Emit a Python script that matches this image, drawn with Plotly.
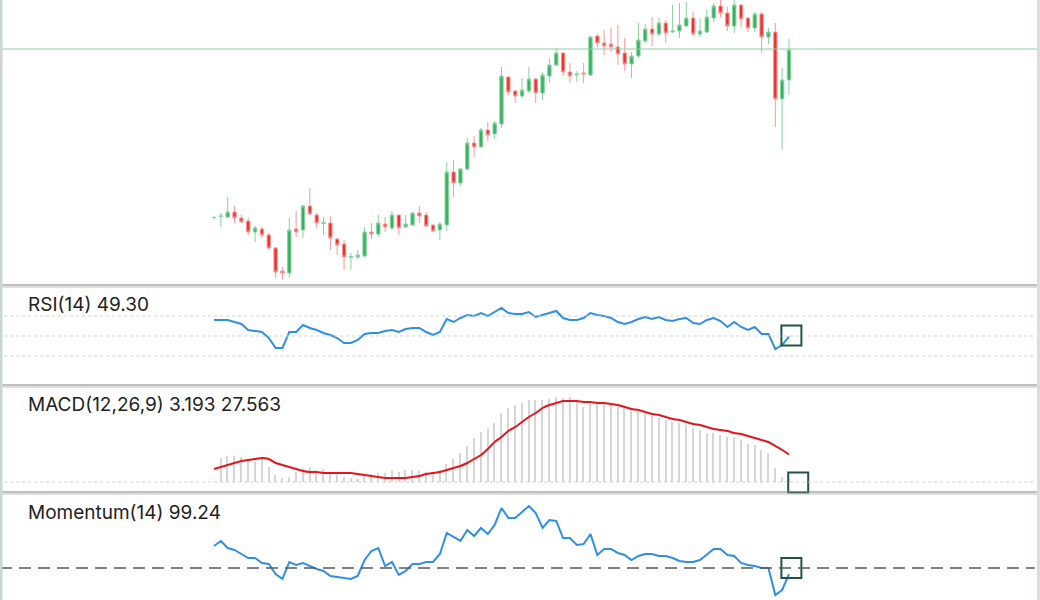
import plotly.graph_objects as go

# ---------------- data ----------------
idx = list(range(85))

opens = [82.5, 83.5, 83, 88, 82, 79, 68, 71, 65, 52, 29, 27, 71, 70, 94, 85, 76.5, 77, 61, 56,
         42.5, 43, 44, 68, 66, 76, 72, 85, 73, 75, 87, 85, 75, 70, 75, 128, 117, 131, 157, 153,
         170, 166, 176, 223, 209, 204, 209, 221, 207, 224, 235, 247, 228, 225, 227, 225, 264, 257, 256, 253,
         247, 236, 244, 259, 271, 266, 277, 268, 269, 274, 282, 266, 268, 282, 294, 287, 274, 295, 282, 272,
         286, 263, 268, 201, 220]
closes = [82.5, 84, 88, 82, 78, 68, 72, 65, 52, 28, 27, 70, 68, 94, 86, 77, 77.5, 62, 55, 43,
          43.5, 45, 68, 66, 77, 73, 85, 72, 76, 87, 84, 74, 69, 76, 128, 117, 131, 157, 153, 170,
          165, 177, 224, 208, 204, 210, 221, 207, 225, 235, 247, 228, 224, 226, 226, 263, 257, 254, 253, 246,
          236, 244, 260, 271, 266, 277, 267, 269, 275, 282, 266, 269, 283, 294, 287, 274, 295, 281, 272, 286,
          263, 268, 201, 220, 250]
highs = [84, 87, 103, 94, 85, 82, 74, 73, 67, 53, 33, 82, 89, 95, 112, 87, 83, 84, 62, 60,
         47, 50, 73, 77, 85, 83, 89, 85, 85, 88, 94, 88, 75, 78, 138, 140, 132, 162, 164, 172,
         178, 179, 233, 224, 210, 222, 233, 222, 228, 242, 252, 248, 237, 229, 237, 264, 266, 270, 272, 275,
         262, 248, 277, 276, 283, 282, 280, 295, 297, 298, 288, 282, 291, 297, 300, 293, 300, 295, 283, 288,
         288, 272, 277, 232, 261]
lows = [81, 73, 82, 77, 77, 65, 58, 62, 50, 22, 20, 22, 63, 62, 85, 72, 65, 50, 45, 30,
        30, 41, 43, 61, 63, 68, 70, 65, 72, 74, 77, 73, 68, 60, 69, 103, 114, 130, 143, 153,
        159, 161, 172, 205, 197, 202, 207, 197, 200, 217, 234, 224, 217, 218, 217, 224, 253, 245, 248, 235,
        229, 222, 242, 257, 254, 263, 257, 267, 262, 273, 264, 263, 267, 278, 283, 269, 267, 273, 268, 268,
        247, 256, 173, 150, 205]

rsi = [66, 66, 66, 64, 62, 56, 55, 54, 48, 38, 38, 54, 54, 61, 58, 56, 53, 51, 48, 43,
       43, 46, 52, 53, 53, 55, 56, 54, 57, 58, 58, 54, 51, 54, 67, 64, 68, 71, 70, 73,
       70, 74, 78, 73, 72, 72, 74, 69, 71, 73, 75, 68, 66, 66, 68, 73, 71, 70, 68, 64,
       62, 64, 67, 69, 67, 69, 66, 65, 67, 68, 63, 62, 66, 68, 65, 59, 64, 59, 56, 59,
       52, 52, 37, 41, 49.30]

macd_main = [None, 24, 26, 26, 25, 22, 20, 24, 15, 7, 4, 5, 10, 14, 15, 12, 13, 10, 10, 5,
             4, 3, 7, 8, 9, 9, 12, 10, 12, 12, 11, 10, 10, 12, 18, 23, 29, 36, 44, 50,
             54, 59, 69, 74, 77, 79, 82, 82, 82, 83, 85, 84, 85, 80, 75, 80, 80, 80, 77, 77,
             75, 72, 70, 68, 66, 64, 62, 60, 59, 57, 54, 52, 49, 49, 47, 45, 45, 42, 38, 37,
             32, 29, 14, 5, 3.193]
macd_signal = [13, 15, 17, 19, 21, 22, 23, 24, 23, 19, 17, 15, 13, 11, 10, 10, 9, 9, 9, 9,
               9, 8, 7, 6, 5, 4, 4, 4, 4, 5, 6, 8, 9, 10, 12, 14, 16, 19, 23, 27,
               33, 40, 45, 51, 55, 60, 65, 69, 74, 77, 79, 81, 81, 81, 80, 80, 79, 79, 78, 77,
               75, 73, 72, 70, 68, 67, 65, 63, 62, 60, 58, 57, 55, 53, 52, 51, 49, 48, 46, 44,
               42, 40, 36, 32, 27.563]

momentum = [102.75, 103.38, 102.50, 102.25, 101.75, 101.25, 101.25, 100.63, 100.50, 99.25,
            98.63, 100.75, 100.38, 100.63, 100.25, 99.88, 99.63, 99.00, 98.88, 98.75,
            98.63, 99.00, 101.00, 102.13, 102.50, 100.25, 100.75, 99.13, 99.63, 100.50,
            100.50, 100.75, 100.75, 101.75, 104.38, 103.88, 103.38, 104.75, 104.00, 105.00,
            104.25, 105.38, 107.50, 106.25, 106.25, 107.00, 107.75, 106.88, 105.00, 106.00,
            105.88, 103.75, 103.75, 102.88, 103.00, 104.25, 101.63, 102.38, 102.38, 101.88,
            101.63, 101.00, 101.50, 101.75, 101.75, 101.50, 101.50, 101.25, 100.88, 100.75,
            100.75, 101.00, 101.75, 102.38, 102.38, 101.63, 101.50, 100.63, 100.38, 100.25,
            100.00, 100.00, 96.63, 97.25, 99.24]

rsi_levels = [70, 50, 30]
macd_zero = 0
momentum_level = 100
price_line = 251

# ---------------- layout helpers ----------------
W, H = 1040, 600


def dom(top_px, bottom_px):
    return [1 - bottom_px / H, 1 - top_px / H]


first_px, step_px = 214, 6.845
x_range = [-first_px / step_px, (W - first_px) / step_px]
last = idx[-1]

fig = go.Figure()

fig.add_trace(go.Candlestick(
    x=idx, open=opens, high=highs, low=lows, close=closes,
    increasing=dict(line=dict(color="#86d1a0", width=1), fillcolor="#36b25c"),
    decreasing=dict(line=dict(color="#f59a98", width=1), fillcolor="#f0302a"),
    whiskerwidth=0, xaxis="x", yaxis="y", showlegend=False, hoverinfo="skip"))

fig.add_trace(go.Scatter(x=idx, y=rsi, mode="lines", line=dict(color="#2f8fe6", width=2),
                         xaxis="x", yaxis="y2", showlegend=False, hoverinfo="skip"))

fig.add_trace(go.Bar(x=idx, y=macd_main, marker=dict(color="#d6d6d6", line=dict(width=0)),
                     width=0.22, xaxis="x", yaxis="y3", showlegend=False, hoverinfo="skip"))
fig.add_trace(go.Scatter(x=idx, y=macd_signal, mode="lines",
                         line=dict(color="#e3161d", width=2, shape="spline", smoothing=0.6),
                         xaxis="x", yaxis="y3", showlegend=False, hoverinfo="skip"))

fig.add_trace(go.Scatter(x=idx, y=momentum, mode="lines", line=dict(color="#2f8fe6", width=2),
                         xaxis="x", yaxis="y4", showlegend=False, hoverinfo="skip"))

# marker boxes at the latest bar
box_style = dict(symbol="square-open", size=20, color="#1f5444", line=dict(width=2, color="#1f5444"))
fig.add_trace(go.Scatter(x=[last + 0.35], y=[50.5], mode="markers", marker=box_style,
                         xaxis="x", yaxis="y2", showlegend=False, hoverinfo="skip"))
fig.add_trace(go.Scatter(x=[last + 1.35], y=[macd_zero - 0.5], mode="markers", marker=box_style,
                         xaxis="x", yaxis="y3", showlegend=False, hoverinfo="skip", cliponaxis=False))
fig.add_trace(go.Scatter(x=[last + 0.35], y=[momentum_level], mode="markers", marker=box_style,
                         xaxis="x", yaxis="y4", showlegend=False, hoverinfo="skip"))

shapes = []
# current price line
shapes.append(dict(type="line", xref="paper", yref="y", x0=0.002, x1=0.997,
                   y0=price_line, y1=price_line, line=dict(color="#8ccfa3", width=1)))
# RSI levels
for lv in rsi_levels:
    shapes.append(dict(type="line", xref="paper", yref="y2", x0=0.004, x1=0.995, y0=lv, y1=lv,
                       line=dict(color="#cfcfcf", width=1, dash="3px,3px")))
# MACD zero
shapes.append(dict(type="line", xref="paper", yref="y3", x0=0.004, x1=0.995, y0=macd_zero, y1=macd_zero,
                   line=dict(color="#cfcfcf", width=1, dash="3px,3px")))
# Momentum level
shapes.append(dict(type="line", xref="paper", yref="y4", x0=0.0, x1=0.995,
                   y0=momentum_level, y1=momentum_level,
                   line=dict(color="#5a5a5a", width=1.5, dash="12px,7px")))
# panel separators (double line)
for sep in [285, 385, 492]:
    shapes.append(dict(type="line", xref="paper", yref="paper", x0=0.002, x1=0.997,
                       y0=1 - sep / H, y1=1 - sep / H, line=dict(color="#808080", width=1.2)))
    shapes.append(dict(type="line", xref="paper", yref="paper", x0=0.002, x1=0.997,
                       y0=1 - (sep + 2) / H, y1=1 - (sep + 2) / H, line=dict(color="#bdbdbd", width=1)))
# frame edges
shapes.append(dict(type="line", xref="paper", yref="paper", x0=0.001, x1=0.001, y0=0, y1=1,
                   line=dict(color="#cdd5d1", width=3)))
shapes.append(dict(type="line", xref="paper", yref="paper", x0=0.9985, x1=0.9985, y0=0, y1=1,
                   line=dict(color="#d9dddb", width=3)))

labels = [
    (f"RSI(14) {rsi[-1]:.2f}", 304),
    (f"MACD(12,26,9) {macd_main[-1]:.3f} {macd_signal[-1]:.3f}", 404),
    (f"Momentum(14) {momentum[-1]:.2f}", 512),
]
annotations = [dict(text=t, xref="paper", yref="paper", x=26 / W, y=1 - yy / H,
                    xanchor="left", yanchor="middle", showarrow=False,
                    font=dict(family="Inter, Lato, sans-serif", size=19, color="#222222"))
               for t, yy in labels]

hidden = dict(visible=False, showgrid=False, zeroline=False, fixedrange=True)
fig.update_layout(
    width=W, height=H, margin=dict(l=0, r=0, t=0, b=0),
    paper_bgcolor="white", plot_bgcolor="white",
    showlegend=False, bargap=0,
    xaxis=dict(range=x_range, domain=[0, 1], anchor="y", rangeslider=dict(visible=False), **hidden),
    yaxis=dict(domain=dom(0, 285), range=[15, 300], anchor="x", **hidden),
    yaxis2=dict(domain=dom(287, 385), range=[1, 99], anchor="x", **hidden),
    yaxis3=dict(domain=dom(387, 492), range=[-10, 95], anchor="x", **hidden),
    yaxis4=dict(domain=dom(494, 600), range=[96, 109.25], anchor="x", **hidden),
    shapes=shapes, annotations=annotations,
)

fig.write_html("out.html", config={"displayModeBar": False},
               post_script="document.body.style.margin='0';document.body.style.overflow='hidden';")
